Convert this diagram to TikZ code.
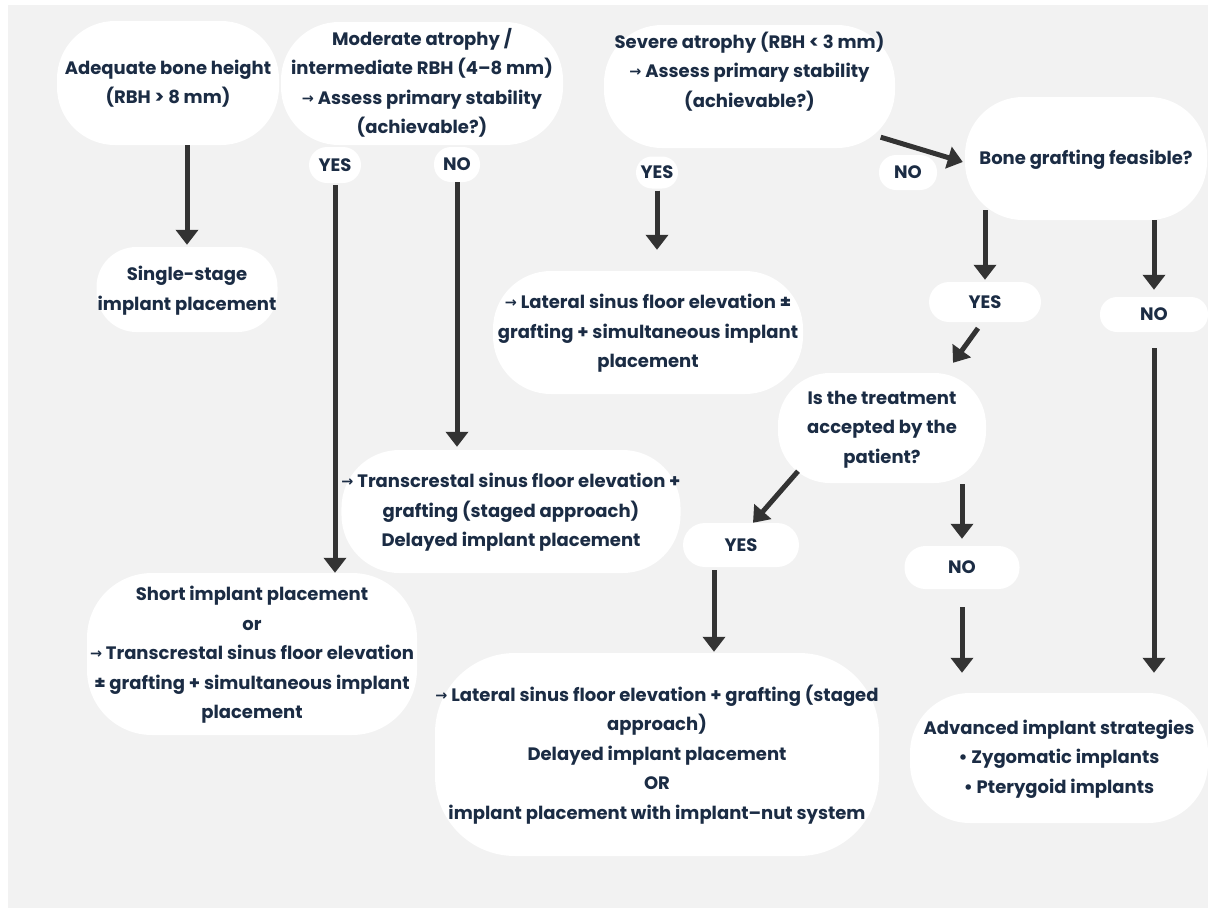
\documentclass[tikz,border=0pt]{standalone}
\usepackage{fontspec}
\setmainfont{Poppins}
\newfontfamily\arrowfont{DejaVu Sans}[Scale=0.8]
\usetikzlibrary{arrows.meta,calc}
\definecolor{bgc}{HTML}{F2F2F2}
\definecolor{txt}{HTML}{1B2C44}
\definecolor{arc}{HTML}{333333}
\newcommand\myarr{\raisebox{1pt}{\arrowfont\bfseries →}}
\begin{document}
\begin{tikzpicture}[x=1pt,y=-1pt,
  box/.style n args={3}{fill=white, rounded corners=#1, minimum width=#2pt, minimum height=#3pt,
    inner sep=0pt, align=center, text=txt, font=\fontsize{18}{29.5}\selectfont\bfseries},
  arr/.style={draw=arc, line width=5pt, -{Triangle[width=22pt,length=15pt]}}]
\useasboundingbox (0,0) rectangle (1208,908);
\fill[white] (0,0) rectangle (1208,908);
\fill[bgc] (8,5) rectangle (1210,910);
% main boxes
\node[box={58}{222}{124}] (adeq) at (168,83) {\strut Adequate bone height\\(RBH > 8 mm)\strut};
\node[box={40}{181}{85}] (single) at (187,289.5) {\strut Single-stage\\implant placement\strut};
\node[box={58}{282}{123}] (moder) at (422,83.5) {\strut Moderate atrophy /\\intermediate RBH (4–8 mm)\\\myarr{} Assess primary stability\\(achievable?)\strut};
\node[box={58}{334}{123}] (trans) at (511,511.5) {\strut\myarr{} Transcrestal sinus floor elevation +\\grafting (staged approach)\\Delayed implant placement\strut};
\node[box={65}{330}{162}] (short) at (252,654) {\strut Short implant placement\\or\\\myarr{} Transcrestal sinus floor elevation\\± grafting + simultaneous implant\\placement\strut};
\node[box={58}{291}{123}] (severe) at (749.5,86.5) {\strut Severe atrophy (RBH < 3 mm)\\\myarr{} Assess primary stability\\(achievable?)\\\strut};
\node[box={58}{310}{123}] (lateral) at (648,332.5) {\strut\myarr{} Lateral sinus floor elevation ±\\grafting + simultaneous implant\\placement\strut};
\node[box={58}{242}{123}] (bone) at (1086,158.5) {\strut Bone grafting feasible?\strut};
\node[box={52}{208}{110}] (treat) at (882,428) {\strut Is the treatment\\accepted by the\\patient?\strut};
\node[box={80}{444}{203}] (final) at (657,754.5) {\strut\myarr{} Lateral sinus floor elevation + grafting (staged\\approach)\\Delayed implant placement\\OR\\implant placement with implant–nut system\strut};
\node[box={60}{298}{130}] (adv) at (1059,758) {\strut Advanced implant strategies\\• Zygomatic implants\\• Pterygoid implants\strut};
% yes/no labels
\node[box={18}{52}{36}] (yes1) at (335,165) {YES};
\node[box={17}{46}{35}] (no1) at (457,164.5) {NO};
\node[box={16}{42}{32}] (yes2) at (657,172.5) {YES};
\node[box={17}{58}{35}] (no2) at (908,172.5) {NO};
\node[box={20}{112}{40}] (yes3) at (985,302) {YES};
\node[box={17}{108}{35}] (no3) at (1154,314.5) {NO};
\node[box={22}{116}{44}] (yes4) at (741,545) {YES};
\node[box={21}{115}{43}] (no4) at (962,567.5) {NO};
% connectors
\draw[arr, shorten >=2pt] (single.north |- adeq.south) -- (single.north);
\draw[arr, shorten <=2pt] (yes1.south) -- (yes1.south |- short.north);
\draw[arr, shorten >=3pt] (no1.south) -- (no1.south |- trans.north);
\draw[arr, shorten <=2pt, shorten >=21pt] (yes2.south) -- (yes2.south |- lateral.north);
\draw[arr] ($(severe.south east)+(-14.5,-11)$) -- ($(bone.west)+(-2,3.5)$);
\draw[arr, shorten >=2pt] ($(yes3.north |- bone.south)+(0,-10)$) -- (yes3.north);
\draw[arr, shorten >=7pt] (no3.north |- bone.south) -- (no3.north);
\draw[arr] ($(yes3.south)+(-7,6)$) -- ($(treat.north)+(71,-10)$);
\draw[arr] ($(treat.south)+(-84,-12)$) -- ($(yes4.north)+(12,0)$);
\draw[arr, shorten <=1pt, shorten >=7pt] (no4.north |- treat.south) -- (no4.north);
\draw[arr] ($(yes4.south)+(-27,3)$) -- ($(yes4.south |- final.north)+(-27,-1)$);
\draw[arr, shorten <=18pt, shorten >=20pt] (no4.south) -- (no4.south |- adv.north);
\draw[arr, shorten <=16pt, shorten >=20pt] (no3.south) -- (no3.south |- adv.north);
\end{tikzpicture}
\end{document}
